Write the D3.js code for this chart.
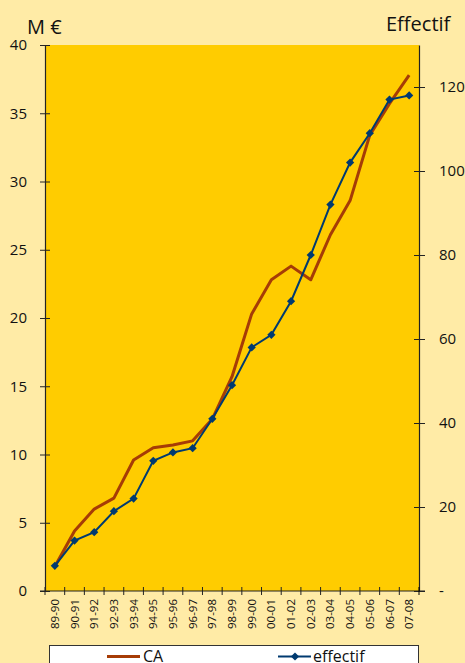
<!DOCTYPE html>
<html>
<head>
<meta charset="utf-8">
<script src="https://cdn.jsdelivr.net/npm/d3@7"></script>
<style>
  html, body { margin: 0; padding: 0; background: #FFEBA6; }
  svg { display: block; font-family: "Open Sans", "Noto Sans", sans-serif; }
</style>
</head>
<body>
<svg id="chart" width="465" height="663"></svg>
<script>
// Fiscal years
const years = ["89-90","90-91","91-92","92-93","93-94","94-95","95-96","96-97","97-98","98-99",
               "99-00","00-01","01-02","02-03","03-04","04-05","05-06","06-07","07-08"];
// Turnover (CA), millions of euros
const caValues = [1.8, 4.4, 6.0, 6.8, 9.6, 10.5, 10.7, 11.0, 12.6, 15.7,
                  20.3, 22.8, 23.8, 22.8, 26.1, 28.6, 33.4, 35.7, 37.8];
// Headcount (effectif)
const effectifValues = [6, 12, 14, 19, 22, 31, 33, 34, 41, 49,
                        58, 61, 69, 80, 92, 102, 109, 117, 118];
const leftTicks = [0, 5, 10, 15, 20, 25, 30, 35, 40];
const rightTicks = [0, 20, 40, 60, 80, 100, 120];

const svg = d3.select("#chart");
const plotLeft = 45, plotRight = 419, plotTop = 45, plotBottom = 591;

const x = d3.scaleBand().domain(years).range([plotLeft, plotRight]);
const yL = d3.scaleLinear().domain([0, 40]).range([plotBottom, plotTop]);
const yR = d3.scaleLinear().domain([0, 130]).range([plotBottom, plotTop]);
const cx = d => x(d) + x.bandwidth() / 2;

// plot background
svg.append("rect").attr("x", plotLeft).attr("y", plotTop)
  .attr("width", plotRight - plotLeft).attr("height", plotBottom - plotTop).attr("fill", "#FFCC00");

// left axis
const gL = svg.append("g").attr("transform", `translate(${plotLeft},0)`)
  .call(d3.axisLeft(yL).tickValues(leftTicks).tickSize(5).tickSizeOuter(0).tickPadding(13));
gL.selectAll(".tick line").attr("x2", 5).attr("x1", -5);
// right axis
const gR = svg.append("g").attr("transform", `translate(${plotRight},0)`)
  .call(d3.axisRight(yR).tickValues(rightTicks).tickSize(6).tickSizeOuter(0).tickPadding(14)
    .tickFormat(d => d === 0 ? "-" : d));
gR.selectAll(".tick line").attr("x1", -5);
// bottom axis
const gB = svg.append("g").attr("transform", `translate(0,${plotBottom})`)
  .call(d3.axisBottom(x).tickSize(4).tickSizeOuter(0).tickPadding(8));
gB.selectAll(".tick line").attr("y1", -4)
  .attr("transform", `translate(${-x.bandwidth() / 2},0)`);
gB.append("line").attr("x1", plotRight).attr("x2", plotRight).attr("y1", -4).attr("y2", 4).attr("stroke", "#000");
gB.select(".domain").attr("d", `M${plotLeft - 5},0H${plotRight + 6}`);
gB.selectAll(".tick text")
  .attr("transform", "rotate(-90)")
  .attr("text-anchor", "end")
  .attr("x", -8).attr("y", 0).attr("dy", "0.35em")
  .attr("font-size", 11.5);

[gL, gR, gB].forEach(g => {
  g.select(".domain").attr("stroke", "#222").attr("stroke-width", 1.2);
  g.selectAll(".tick line").attr("stroke", "#222");
  g.selectAll("text").attr("fill", "#111").style("font-family", "'Open Sans', sans-serif");
});
gL.selectAll("text").attr("font-size", 15);
gR.selectAll("text").attr("font-size", 15).attr("text-anchor", "start");

// axis titles
svg.append("text").attr("x", 27).attr("y", 34).attr("font-size", 20).attr("fill", "#111").text("M €");
svg.append("text").attr("x", 386).attr("y", 31).attr("font-size", 20).attr("fill", "#111").text("Effectif");

// CA line
svg.append("path").datum(caValues.map((v, i) => [cx(years[i]), yL(v)]))
  .attr("d", d3.line()).attr("fill", "none")
  .attr("stroke", "#A63C06").attr("stroke-width", 3).attr("stroke-linejoin", "round");

// effectif line
svg.append("path").datum(effectifValues.map((v, i) => [cx(years[i]), yR(v)]))
  .attr("d", d3.line()).attr("fill", "none")
  .attr("stroke", "#003A70").attr("stroke-width", 2);

const diamond = d3.symbol().type(d3.symbolSquare).size(34);
svg.append("g").selectAll("path").data(effectifValues).join("path")
  .attr("d", diamond)
  .attr("transform", (v, i) => `translate(${cx(years[i])},${yR(v)}) rotate(45)`)
  .attr("fill", "#003A70");

// legend
const lg = svg.append("g");
lg.append("rect").attr("x", 49.5).attr("y", 645.5).attr("width", 369).attr("height", 30)
  .attr("fill", "#fff").attr("stroke", "#333").attr("stroke-width", 1);
lg.append("line").attr("x1", 107).attr("x2", 140).attr("y1", 656.5).attr("y2", 656.5)
  .attr("stroke", "#A63C06").attr("stroke-width", 3);
lg.append("text").attr("x", 143).attr("y", 662).attr("font-size", 16).attr("fill", "#111").text("CA");
lg.append("line").attr("x1", 278).attr("x2", 311).attr("y1", 656.5).attr("y2", 656.5)
  .attr("stroke", "#003A70").attr("stroke-width", 2);
lg.append("path").attr("d", diamond).attr("transform", "translate(295,656.5) rotate(45)").attr("fill", "#003A70");
lg.append("text").attr("x", 313).attr("y", 662).attr("font-size", 16).attr("fill", "#111").text("effectif");
</script>
</body>
</html>
